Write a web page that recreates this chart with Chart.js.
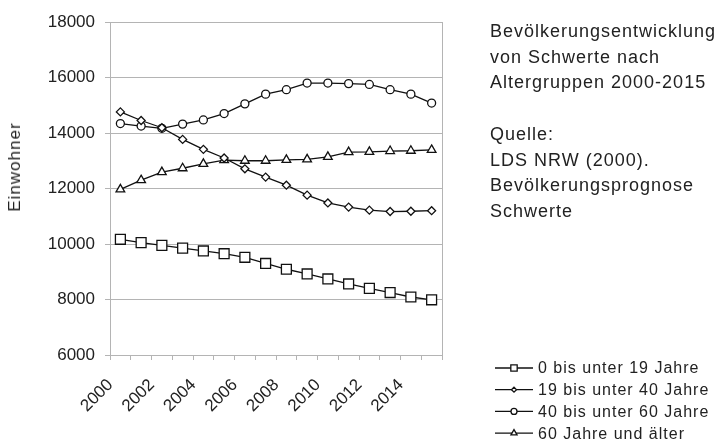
<!DOCTYPE html>
<html>
<head>
<meta charset="utf-8">
<script src="https://cdn.jsdelivr.net/npm/chart.js@4/dist/chart.umd.min.js"></script>
<style>
  body { margin: 0; background: #fff; }
  #wrap { position: relative; width: 718px; height: 443px; }
  #wrap canvas { position: absolute; left: 0; top: 0; }
  .note {
    position: absolute; left: 490px; top: 19px;
    font: 18px "Liberation Sans", Arial, sans-serif; letter-spacing: 1px;
    line-height: 25.7px; color: #222; white-space: nowrap;
  }
  .ytitle {
    position: absolute; left: 15px; top: 167px;
    transform: translate(-50%, -50%) rotate(-90deg);
    font: 17px "Liberation Sans", Arial, sans-serif; letter-spacing: 1px;
    color: #222; white-space: nowrap;
  }
</style>
</head>
<body>
<div id="wrap">
  <canvas id="popChart" width="718" height="443"></canvas>
  <div class="ytitle">Einwohner</div>
  <div class="note">Bevölkerungsentwicklung<br>von Schwerte nach<br>Altergruppen 2000-2015<br><br>Quelle:<br>LDS NRW (2000).<br>Bevölkerungsprognose<br>Schwerte</div>
</div>
<script>
// Data
const years = ["2000", "2001", "2002", "2003", "2004", "2005", "2006", "2007",
  "2008", "2009", "2010", "2011", "2012", "2013", "2014", "2015"];
const seriesNames = ["0 bis unter 19 Jahre", "19 bis unter 40 Jahre",
  "40 bis unter 60 Jahre", "60 Jahre und älter"];
const under19 = [10170, 10050, 9950, 9850, 9750, 9650, 9520, 9300, 9090, 8920, 8740, 8560, 8400, 8250, 8090, 7990];
const age19to40 = [14760, 14450, 14190, 13770, 13410, 13100, 12710, 12410, 12120, 11760, 11480, 11330, 11220, 11170, 11180, 11200];
const age40to60 = [14340, 14250, 14170, 14320, 14470, 14700, 15050, 15400, 15560, 15800, 15800, 15780, 15750, 15560, 15400, 15080];
const over60 = [11970, 12300, 12590, 12730, 12890, 13020, 13000, 13000, 13030, 13050, 13140, 13310, 13320, 13350, 13360, 13390];
const yTicks = [6000, 8000, 10000, 12000, 14000, 16000, 18000];

const gridGray = "#b4b4b4";
const styles = [
  { pointStyle: "rect", radius: 7, legendRadius: 4.5 },
  { pointStyle: "rectRot", radius: 4, legendRadius: 2.5 },
  { pointStyle: "circle", radius: 4, legendRadius: 3 },
  { pointStyle: "triangle", radius: 5, legendRadius: 3.5 },
];

function makeSet(i, values) {
  return {
    label: seriesNames[i],
    data: values,
    borderColor: "#111",
    borderWidth: 1.3,
    backgroundColor: "#fff",
    pointStyle: styles[i].pointStyle,
    pointRadius: styles[i].radius,
    pointBorderWidth: 1.3,
    pointBorderColor: "#111",
    pointBackgroundColor: "#fff",
    tension: 0,
    fill: false,
  };
}

// right border of the plot + legend with line and marker
const frameAndLegend = {
  id: "frameAndLegend",
  afterDraw(chart) {
    const ctx = chart.ctx;
    const a = chart.chartArea;
    ctx.save();
    ctx.strokeStyle = gridGray;
    ctx.lineWidth = 1;
    ctx.beginPath();
    ctx.moveTo(a.right + 0.5, a.top);
    ctx.lineTo(a.right + 0.5, a.bottom);
    ctx.stroke();

    chart.data.datasets.forEach((ds, i) => {
      const y = 368 + i * 21.7;
      ctx.strokeStyle = "#111";
      ctx.lineWidth = 1.3;
      ctx.beginPath();
      ctx.moveTo(495, y);
      ctx.lineTo(533, y);
      ctx.stroke();
      ctx.fillStyle = "#fff";
      Chart.helpers.drawPoint(ctx, {
        pointStyle: ds.pointStyle,
        radius: styles[i].legendRadius,
        borderWidth: 1.3,
        rotation: 0,
      }, 514, y);
      ctx.fillStyle = "#222";
      ctx.font = '16px "Liberation Sans", Arial, sans-serif';
      ctx.letterSpacing = "1px";
      ctx.textBaseline = "middle";
      ctx.textAlign = "left";
      ctx.fillText(ds.label, 538, y + 1);
    });
    ctx.restore();
  },
};

new Chart(document.getElementById("popChart"), {
  type: "line",
  data: {
    labels: years,
    datasets: [
      makeSet(0, under19),
      makeSet(1, age19to40),
      makeSet(2, age40to60),
      makeSet(3, over60),
    ],
  },
  options: {
    responsive: false,
    animation: false,
    devicePixelRatio: 1,
    layout: { padding: { top: 22, right: 276, left: 0, bottom: 0 } },
    plugins: {
      legend: { display: false },
      tooltip: { enabled: false },
    },
    scales: {
      x: {
        offset: true,
        grid: {
          offset: true,
          drawOnChartArea: false,
          drawTicks: true,
          tickLength: 5,
          color: gridGray,
        },
        border: { color: gridGray },
        ticks: {
          autoSkip: false,
          minRotation: 45,
          maxRotation: 45,
          padding: 15,
          labelOffset: -10,
          color: "#222",
          font: { family: '"Liberation Sans", Arial, sans-serif', size: 17 },
          callback: (v, i) => (i % 2 === 0 ? years[i] : ""),
        },
        afterFit: (s) => { s.height = 88; },
      },
      y: {
        min: yTicks[0],
        max: yTicks[yTicks.length - 1],
        grid: { color: gridGray, tickLength: 5 },
        border: { color: gridGray },
        afterBuildTicks: (s) => { s.ticks = yTicks.map((v) => ({ value: v })); },
        ticks: {
          padding: 10,
          color: "#222",
          font: { family: '"Liberation Sans", Arial, sans-serif', size: 17 },
          callback: (v) => String(v),
        },
        afterFit: (s) => { s.width = 110; },
      },
    },
  },
  plugins: [frameAndLegend],
});
</script>
</body>
</html>
